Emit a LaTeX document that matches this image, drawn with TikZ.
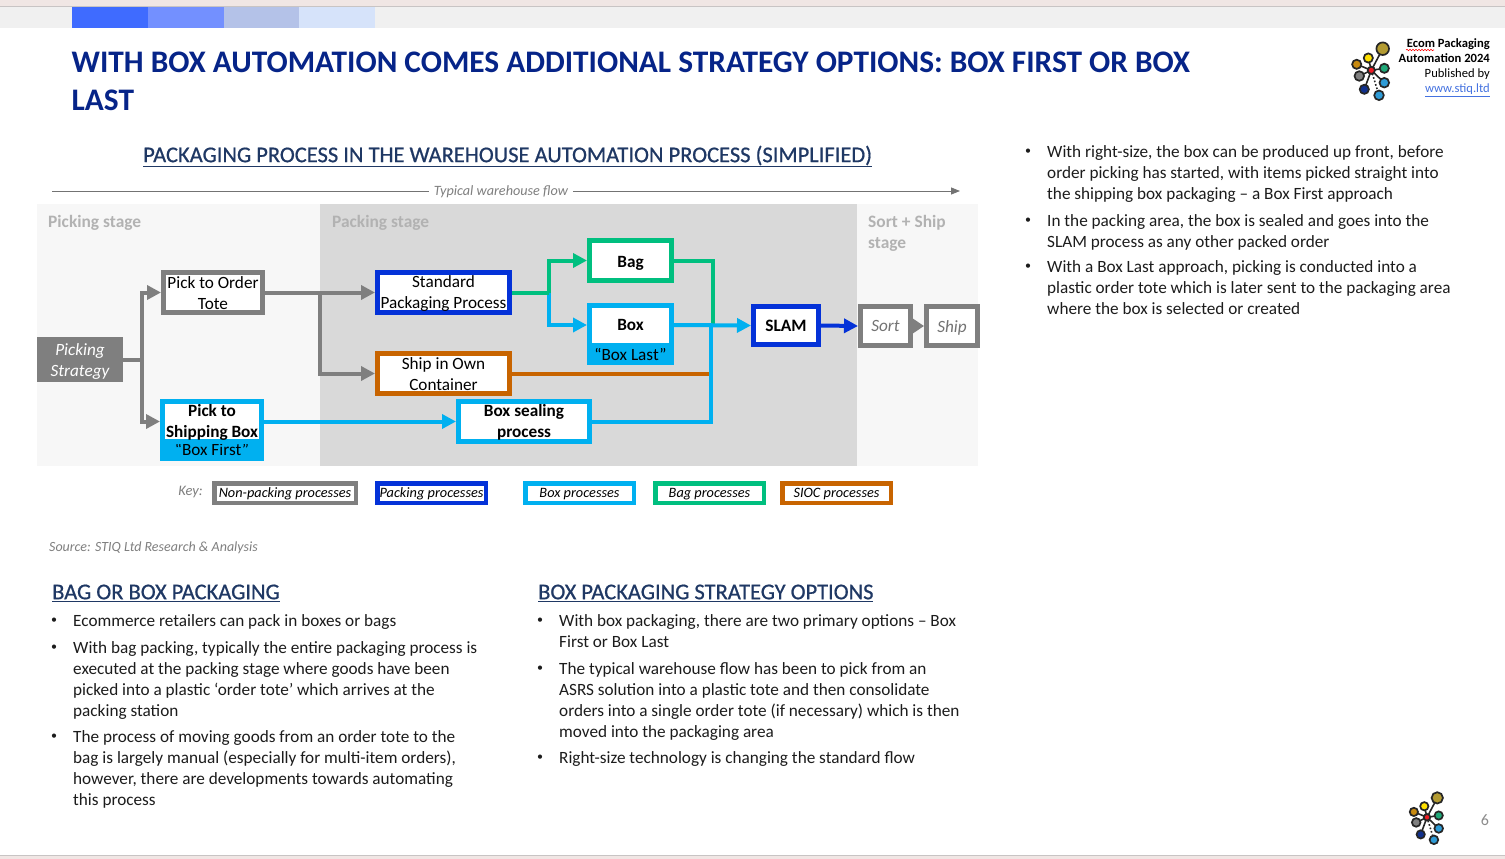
\documentclass[tikz,border=0pt]{standalone}
\usepackage{fontspec}
\setmainfont{Carlito}
\usetikzlibrary{arrows.meta,decorations.pathmorphing}
\definecolor{cgray}{HTML}{7F7F7F}
\definecolor{cblue}{HTML}{0432D8}
\definecolor{ccyan}{HTML}{00B0F0}
\definecolor{cgreen}{HTML}{00BF7F}
\definecolor{corange}{HTML}{C86400}
\definecolor{titleblue}{HTML}{062488}
\definecolor{headblue}{HTML}{1F3864}
\definecolor{bodyk}{HTML}{1C1C1C}
\definecolor{stagegray}{HTML}{B2B2B2}
\definecolor{notegray}{HTML}{7F7F7F}
\newcommand\fs[2]{\fontsize{#1}{#2}\selectfont}
\newcommand\tp[1][14pt]{\rule{0pt}{#1}}
\tikzset{
  stagebg/.style={fill=#1,draw=none},
  procbox/.style={draw=#1,line width=5pt,fill=white,inner sep=0pt,align=center,text=black,font=\fs{17.2}{21}},
  procfill/.style={fill=ccyan,inner sep=0pt,align=center,text=black,font=\fs{17.2}{21}},
  keybox/.style={draw=#1,line width=4.5pt,fill=white,inner sep=0pt,minimum height=19.5pt,align=center,text=black,font=\fs{14.3}{15}\itshape},
  conn/.style={draw=#1,line width=4pt},
  head/.style={-{Triangle[length=14pt,width=14pt]}},
  stagelabel/.style={anchor=north west,inner sep=0pt,align=left,text=stagegray,font=\fs{17.4}{21}\bfseries},
  para/.style={anchor=north west,inner sep=0pt,align=left,text=bodyk,font=\fs{17.2}{21},yshift=9pt},
  bulletdot/.style={inner sep=0pt,text=bodyk,font=\fs{12}{21}},
  sectionhead/.style={anchor=west,inner sep=0pt,text=headblue,font=\fs{22.5}{26}\addfontfeature{FakeBold=0.7}},
}
\newcommand\para[5]{%
  \node[bulletdot] (#1b) at (#2-19,#3) {•};
  \node[para] (#1) at (#2,#3) {\strut #4};}
\newcommand\logomark[3]{%
  \begin{scope}[shift={(#1,#2)},scale=#3]
    \foreach \a/\b in {11.4/-21.6,-3/-12.3,-14.6/-6,13/-2,-12/5.7,13/12.4,-7/19}
      \draw[line width=1.6pt,black!85] (0,0) -- (\a,\b);
    \draw[line width=1.6pt,black!85,dotted] (0,0) -- (7.7,25);
    \foreach \a/\b/\r/\c in {11.4/-21.6/6.3/B39B32,-3/-12.3/4.6/FFE000,-14.6/-6/4.6/C88A10,13/-2/4.6/1FA878,-12/5.7/4.8/808080,13/12.4/4.8/2E9BD6,-7/19/4.6/10308C,7.7/25/4.8/2E9BD6,0/0/3.6/EE1C25}{
      \definecolor{lc}{HTML}{\c}
      \filldraw[fill=lc,draw=black!85,line width=1.7pt] (\a,\b) circle[radius=\r];}
  \end{scope}}
\begin{document}
\begin{tikzpicture}[x=1pt,y=-1pt]
\useasboundingbox (0,0) rectangle (1505,859);
% window chrome
\fill[white] (0,0) rectangle (1505,859);
\fill[color={rgb,255:red,240;green,230;blue,228}] (0,0) rectangle (1505,6);
\fill[color={rgb,255:red,200;green,196;blue,196}] (0,6) rectangle (1505,7);
\fill[color={rgb,255:red,240;green,240;blue,240}] (0,7) rectangle (1505,28);
\fill[color={rgb,255:red,63;green,107;blue,255}] (72,7) rectangle (148,28);
\fill[color={rgb,255:red,115;green,144;blue,255}] (148,7) rectangle (224,28);
\fill[color={rgb,255:red,180;green,194;blue,232}] (224,7) rectangle (299,28);
\fill[color={rgb,255:red,214;green,227;blue,250}] (299,7) rectangle (375,28);
\fill[color={rgb,255:red,240;green,230;blue,228}] (0,855) rectangle (1505,859);
\fill[color={rgb,255:red,200;green,196;blue,196}] (0,855) rectangle (1505,856);
% title
\node[anchor=north west,inner sep=0pt,align=left,text=titleblue,font=\fs{31.35}{38}\bfseries] (title) at (71.5,45.5)
  {\strut WITH BOX AUTOMATION COMES ADDITIONAL STRATEGY OPTIONS: BOX FIRST OR BOX\\\strut LAST};
% logo text
\node[anchor=north east,inner sep=0pt,align=right,text=black,font=\fs{12.6}{15}] (logotext) at (1490,37)
  {\strut\textbf{Ecom Packaging}\\\strut\textbf{Automation 2024}\\\strut Published by\\\strut\textcolor[HTML]{4472E0}{\underline{www.stiq.ltd}}};
\draw[red,line width=.6pt,decorate,decoration={snake,amplitude=.7pt,segment length=3pt}] (1406,50) -- (1434,50);
\logomark{1371.3}{70.3}{1}
\logomark{1427}{817.3}{0.9}
\node[inner sep=0pt,text=black!45,font=\fs{16}{18}] (pagenum) at (1485,820) {6};
% main heading
\node[sectionhead] (mainhead) at (143,156.5) {\underline{PACKAGING PROCESS IN THE WAREHOUSE AUTOMATION PROCESS (SIMPLIFIED)}};
% flow line
\node[inner sep=0pt,text=notegray,font=\fs{14.2}{16}\itshape] (flow) at (501,191.5) {Typical warehouse flow};
\coordinate (flowstart) at (52,191);
\coordinate (flowend) at (960,191);
\draw[line width=.8pt,black!55] (flowstart) -- ([xshift=-5pt]flow.west |- flowstart);
\draw[line width=.8pt,black!55,-{Triangle[length=9pt,width=7pt]}] ([xshift=5pt]flow.east |- flowend) -- (flowend);
% stages
\fill[stagebg={black!3}] (37,204) rectangle (320,466);
\fill[stagebg={black!15}] (320,204) rectangle (857,466);
\fill[stagebg={black!3}] (857,204) rectangle (978,466);
\node[stagelabel] (st1) at (48,215) {Picking stage};
\node[stagelabel] (st2) at (332,215) {Packing stage};
\node[stagelabel] (st3) at (868,215) {Sort + Ship\\stage};
% nodes
\node[fill=cgray,text=white,inner sep=0pt,minimum width=86pt,minimum height=45pt,align=center,font=\fs{17.2}{21}\itshape] (strategy) at (80,359.5) {\tp[16.5pt]Picking\\Strategy};
\node[procbox=cgray,minimum width=99pt,minimum height=40pt] (tote) at (213,292.5) {\tp Pick to Order\\Tote};
\node[procbox=cblue,minimum width=132pt,minimum height=40pt] (std) at (443.5,292.5) {\tp Standard\\Packaging Process};
\node[procbox=corange,minimum width=132pt,minimum height=40pt] (own) at (443.5,373.5) {\tp Ship in Own\\Container};
\node[procfill,minimum width=104pt,minimum height=22pt] (firstlabel) at (212,450) {\raisebox{1pt}{“Box First”}};
\node[procbox=ccyan,minimum width=99pt,minimum height=40pt,font=\fs{17.2}{21}\bfseries] (pickbox) at (212,421.5) {\tp Pick to\\Shipping Box};
\node[procbox=ccyan,minimum width=131pt,minimum height=40pt,font=\fs{17.2}{21}\bfseries] (seal) at (524,421.5) {\tp Box sealing\\process};
\node[procbox=cgreen,minimum width=82pt,minimum height=40pt,font=\fs{17.2}{21}\bfseries] (bag) at (630.5,260.5) {\tp[16.5pt]Bag};
\node[procfill,minimum width=87pt,minimum height=22pt] (lastlabel) at (630.5,354) {“Box Last”};
\node[procbox=ccyan,minimum width=82pt,minimum height=40pt,font=\fs{17.2}{21}\bfseries] (box) at (630.5,325) {Box};
\node[procbox=cblue,minimum width=65pt,minimum height=38pt,font=\fs{17.4}{21}\bfseries] (slam) at (786,325.5) {SLAM};
\node[procbox=cgray,minimum width=50pt,minimum height=39pt,font=\fs{17.2}{21}\itshape,text=black!55] (sort) at (885.5,326) {Sort};
\node[procbox=cgray,minimum width=51pt,minimum height=39pt,font=\fs{17.2}{21}\itshape,text=black!55] (ship) at (952,326) {\tp[15.5pt]Ship};
% junctions
\coordinate (jstrat) at (142,359.5);
\coordinate (jtote) at (320,292.5);
\coordinate (jstd) at (549,292.5);
\coordinate (jbag) at (713,325);
\coordinate (jbox) at (711,325);
% connectors
\draw[conn=cgray] (strategy.east) -- (jstrat);
\draw[conn=cgray,head] (jstrat) |- (tote.west);
\draw[conn=cgray,head] (jstrat) |- (pickbox.west);
\draw[conn=cgray,head] (tote.east) -- (std.west);
\draw[conn=cgray,head] (jtote) |- (own.west);
\draw[conn=ccyan,head] (jstd) |- (box.west);
\draw[conn=cgreen] (std.east) -- (jstd);
\draw[conn=cgreen,head] (jstd) |- (bag.west);
\draw[conn=cgreen] (bag.east) -| (jbag);
\draw[conn=corange] (own.east) -- (jbox |- own.east);
\draw[conn=ccyan] (seal.east) -| (jbox);
\draw[conn=ccyan,head] (box.east) -- (slam.west);
\draw[conn=ccyan,head] (pickbox.east) -- (seal.west);
\draw[conn=cblue,head] (slam.east) -- (sort.west);
\draw[conn=cgray,-{Triangle[length=11pt,width=14pt]}] (sort.east) -- (ship.west);
% key
\node[inner sep=0pt,text=notegray,font=\fs{14.5}{15}\itshape] (keylabel) at (190.5,492.5) {Key:};
\node[keybox=cgray,minimum width=141.5pt] (k1) at (285,493) {\tp[12pt]Non-packing processes};
\node[keybox=cblue,minimum width=108.5pt] (k2) at (431.5,493) {\tp[12pt]Packing processes};
\node[keybox=ccyan,minimum width=108.5pt] (k3) at (579.5,493) {\tp[12pt]Box processes};
\node[keybox=cgreen,minimum width=108.5pt] (k4) at (709.5,493) {\tp[12pt]Bag processes};
\node[keybox=corange,minimum width=108.5pt] (k5) at (836.5,493) {\tp[12pt]SIOC processes};
% source
\node[anchor=west,inner sep=0pt,text=notegray,font=\fs{14}{15}\itshape] (source) at (49,548) {Source: STIQ Ltd Research \& Analysis};
% right text
\para{r1}{1047}{152}{With right-size, the box can be produced up front, before\\order picking has started, with items picked straight into\\the shipping box packaging – a Box First approach}{}
\para{r2}{1047}{221}{In the packing area, the box is sealed and goes into the\\SLAM process as any other packed order}{}
\para{r3}{1047}{267}{With a Box Last approach, picking is conducted into a\\plastic order tote which is later sent to the packaging area\\where the box is selected or created}{}
% left text
\node[sectionhead] (lefthead) at (52,593) {\underline{BAG OR BOX PACKAGING}};
\para{l1}{73}{621}{Ecommerce retailers can pack in boxes or bags}{}
\para{l2}{73}{648}{With bag packing, typically the entire packaging process is\\executed at the packing stage where goods have been\\picked into a plastic ‘order tote’ which arrives at the\\packing station}{}
\para{l3}{73}{737}{The process of moving goods from an order tote to the\\bag is largely manual (especially for multi-item orders),\\however, there are developments towards automating\\this process}{}
% middle text
\node[sectionhead] (midhead) at (538,593) {\underline{BOX PACKAGING STRATEGY OPTIONS}};
\para{m1}{559}{621}{With box packaging, there are two primary options – Box\\First or Box Last}{}
\para{m2}{559}{669}{The typical warehouse flow has been to pick from an\\ASRS solution into a plastic tote and then consolidate\\orders into a single order tote (if necessary) which is then\\moved into the packaging area}{}
\para{m3}{559}{758}{Right-size technology is changing the standard flow}{}
\end{tikzpicture}
\end{document}
